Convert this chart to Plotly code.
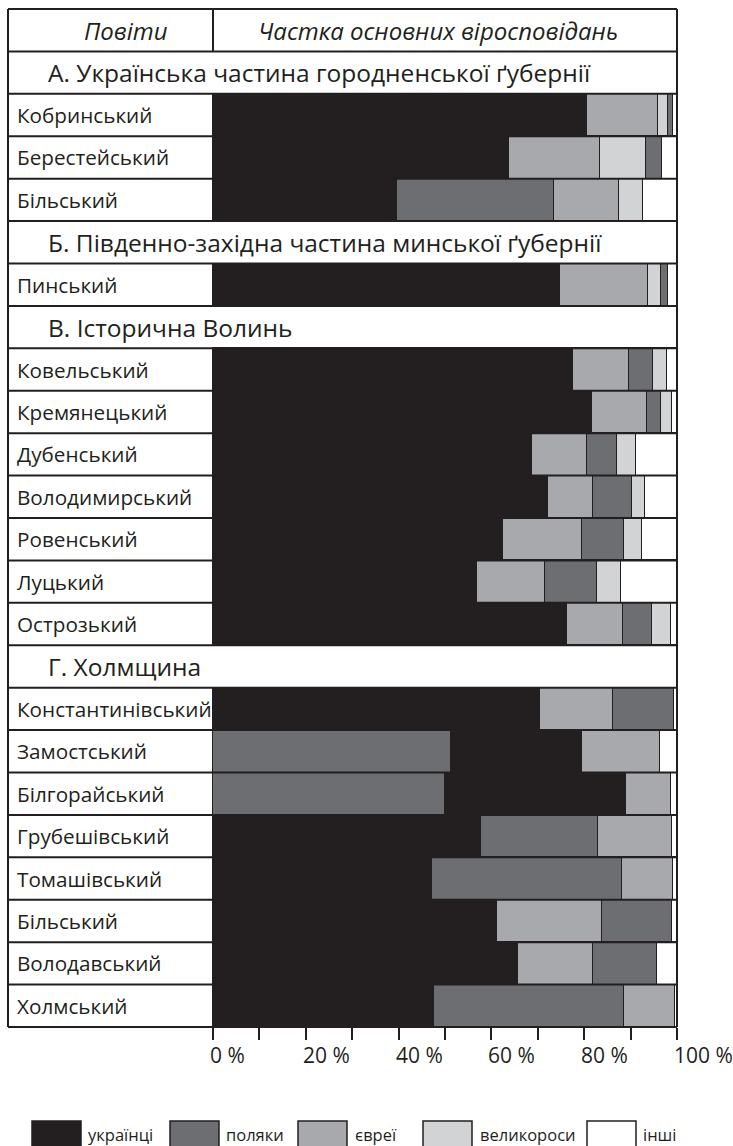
import plotly.graph_objects as go

# ---------------- data ----------------
sections = [
    "А. Українська частина городненської ґубернії",
    "Б. Південно-західна частина минської ґубернії",
    "В. Історична Волинь",
    "Г. Холмщина",
]
districts = [
    "Кобринський", "Берестейський", "Більський",
    "Пинський",
    "Ковельський", "Кремянецький", "Дубенський", "Володимирський",
    "Ровенський", "Луцький", "Острозький",
    "Константинівський", "Замостський", "Білгорайський", "Грубешівський",
    "Томашівський", "Більський", "Володавський", "Холмський",
]
district_section = [0, 0, 0, 1, 2, 2, 2, 2, 2, 2, 2, 3, 3, 3, 3, 3, 3, 3, 3]

ukrainians     = [80.5, 63.7, 39.7, 74.8, 77.6, 81.6, 68.7, 72.3, 62.4, 56.8, 76.3,
                  70.5, 28.2, 39.1, 57.8, 47.2, 61.1, 65.8, 47.7]
poles          = [1.1, 3.4, 33.7, 1.6, 5.2, 3.0, 6.5, 8.3, 9.0, 11.2, 6.2,
                  13.3, 51.3, 49.9, 25.1, 41.0, 15.1, 13.9, 40.8]
jews           = [15.3, 19.8, 14.1, 18.9, 12.0, 12.0, 11.9, 9.7, 17.2, 14.7, 12.1,
                  15.6, 16.8, 9.6, 16.0, 10.9, 22.8, 16.0, 11.0]
great_russians = [2.3, 9.9, 5.1, 2.8, 3.0, 2.3, 4.0, 2.8, 3.9, 5.2, 4.0,
                  0, 0, 0, 0, 0, 0, 0, 0]
others         = [0.8, 3.2, 7.4, 1.9, 2.2, 1.1, 8.9, 6.9, 7.5, 12.1, 1.4,
                  0.6, 3.7, 1.4, 1.1, 0.9, 1.0, 4.3, 0.5]

# order of segments inside each bar (as drawn in the source)
segment_order = [
    "ukr,evr,vel,pol,oth", "ukr,evr,vel,pol,oth", "ukr,pol,evr,vel,oth",
    "ukr,evr,vel,pol,oth",
    "ukr,evr,pol,vel,oth", "ukr,evr,pol,vel,oth", "ukr,evr,pol,vel,oth",
    "ukr,evr,pol,vel,oth", "ukr,evr,pol,vel,oth", "ukr,evr,pol,vel,oth",
    "ukr,evr,pol,vel,oth",
    "ukr,evr,pol,oth", "pol,ukr,evr,oth", "pol,ukr,evr,oth", "ukr,pol,evr,oth",
    "ukr,pol,evr,oth", "ukr,evr,pol,oth", "ukr,evr,pol,oth", "ukr,pol,evr,oth",
]

group_keys = ["ukr", "pol", "evr", "vel", "oth"]
group_names = ["українці", "поляки", "євреї", "великороси", "інші"]
x_tick_values = [0, 10, 20, 30, 40, 50, 60, 70, 80, 90, 100]
x_tick_labels = ["0 %", "20 %", "40 %", "60 %", "80 %", "100 %"]
x_label_values = [0, 20, 40, 60, 80, 100]

# ---------------- styling ----------------
colors = {"ukr": "#231f20", "pol": "#6d6e71", "evr": "#a7a9ac",
          "vel": "#d1d3d4", "oth": "#ffffff"}
INK = "#231f20"
FONT = "Open Sans"
W, H = 733, 1146
PL, PR, PT, PB = 8, 677, 9, 1027      # plot area in pixels
BAR0 = 213                            # pixel of 0 %

values = {"ukr": ukrainians, "pol": poles, "evr": jews,
          "vel": great_russians, "oth": others}

# ---------------- table rows ----------------
row_of_district = []
section_rows = []
r = 1
prev = None
for i, s in enumerate(district_section):
    if s != prev:
        section_rows.append((r, sections[s]))
        r += 1
        prev = s
    row_of_district.append(r)
    r += 1
n_rows = r

# ---------------- bars ----------------
seg = {k: {"y": [], "x": [], "base": []} for k in group_keys}
for i in range(len(districts)):
    start = 0.0
    for k in segment_order[i].split(","):
        v = values[k][i]
        if v > 0:
            seg[k]["y"].append(row_of_district[i] + 0.5)
            seg[k]["x"].append(v)
            seg[k]["base"].append(start)
        start += v

fig = go.Figure()
for k, name in zip(group_keys, group_names):
    fig.add_trace(go.Bar(
        orientation="h", y=seg[k]["y"], x=seg[k]["x"], base=seg[k]["base"],
        width=1, name=name, showlegend=False, hoverinfo="skip",
        marker=dict(color=colors[k], line=dict(color=INK, width=1)),
    ))

x0 = -100 * (BAR0 - PL) / (PR - BAR0)


def px_x(px):
    return (px - PL) / (PR - PL)


def px_y(py):
    return 1 - (py - PT) / (PB - PT)


shapes = []
line = dict(color=INK, width=2)
# horizontal lines
for rr in range(n_rows + 1):
    shapes.append(dict(type="line", xref="paper", yref="paper", x0=0, x1=1,
                       y0=1 - rr / n_rows, y1=1 - rr / n_rows, line=line, layer="above"))
# outer verticals
shapes.append(dict(type="line", xref="paper", yref="paper", x0=0, x1=0, y0=0, y1=1,
                   line=line, layer="above"))
shapes.append(dict(type="line", xref="paper", yref="paper", x0=1, x1=1, y0=0, y1=1,
                   line=line, layer="above"))
# header divider
shapes.append(dict(type="line", xref="paper", yref="paper", x0=px_x(BAR0), x1=px_x(BAR0),
                   y0=1 - 1 / n_rows, y1=1, line=line, layer="above"))

annotations = []
# header
annotations.append(dict(text="<i>Повіти</i>", xref="paper", yref="y", x=px_x(126), y=0.5,
                        xanchor="center", yanchor="middle", showarrow=False,
                        font=dict(family=FONT, size=24, color=INK)))
annotations.append(dict(text="<i>Частка основних віросповідань</i>", xref="paper", yref="y",
                        x=px_x(438), y=0.5, xanchor="center", yanchor="middle",
                        showarrow=False, font=dict(family=FONT, size=24, color=INK)))
# sections
for rr, t in section_rows:
    annotations.append(dict(text=t, xref="paper", yref="y", x=px_x(46), y=rr + 0.5,
                            xanchor="left", yanchor="middle", showarrow=False,
                            font=dict(family=FONT, size=24.5, color=INK)))
# district names
for i, name in enumerate(districts):
    annotations.append(dict(text=name, xref="paper", yref="y", x=px_x(15),
                            y=row_of_district[i] + 0.5, xanchor="left", yanchor="middle",
                            showarrow=False, font=dict(family=FONT, size=20.7, color=INK)))
# x tick labels
for v, t in zip(x_label_values, x_tick_labels):
    annotations.append(dict(text=t, xref="x", yref="paper", x=v, y=0, xanchor="left",
                            yanchor="top", xshift=-5, yshift=-12, showarrow=False,
                            font=dict(family=FONT, size=21, color=INK)))
# legend
legend_box_x = [32, 170, 298, 423, 587]
legend_text_x = [86, 224, 353, 478, 641]
for k, name, bx, tx in zip(group_keys, group_names, legend_box_x, legend_text_x):
    shapes.append(dict(type="rect", xref="paper", yref="paper",
                       x0=px_x(bx), x1=px_x(bx + 49), y0=px_y(1121), y1=px_y(1150),
                       fillcolor=colors[k], line=dict(color=INK, width=1.5)))
    annotations.append(dict(text=name, xref="paper", yref="paper", x=px_x(tx), y=px_y(1134),
                            xanchor="left", yanchor="middle", showarrow=False,
                            font=dict(family=FONT, size=16.5, color=INK)))

fig.update_layout(
    width=W, height=H, autosize=False,
    margin=dict(l=PL, r=W - PR, t=PT, b=H - PB, pad=0),
    paper_bgcolor="white", plot_bgcolor="white",
    barmode="overlay", bargap=0,
    shapes=shapes, annotations=annotations,
    xaxis=dict(range=[x0, 100], tickvals=x_tick_values, showticklabels=False,
               ticks="outside", ticklen=12, tickwidth=1.5, tickcolor=INK,
               showgrid=False, zeroline=False, showline=False, fixedrange=True),
    yaxis=dict(range=[n_rows, 0], showticklabels=False, showgrid=False,
               zeroline=False, showline=False, ticks="", fixedrange=True),
    font=dict(family=FONT, color=INK),
)

fig.write_html("out.html", config={"displayModeBar": False},
               post_script="document.body.style.margin='0';document.body.style.overflow='hidden';")
